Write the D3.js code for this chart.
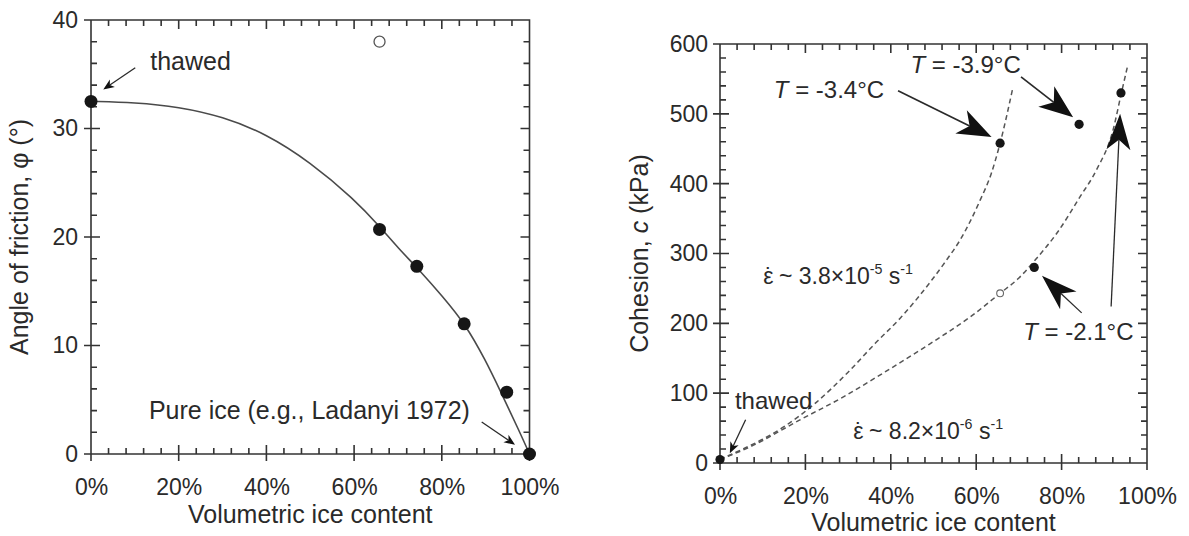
<!DOCTYPE html>
<html>
<head>
<meta charset="utf-8">
<script src="https://cdn.jsdelivr.net/npm/d3@7"></script>
<style>
  body { margin: 0; background: #fff; }
  text { font-family: "Liberation Sans", Arial, Helvetica, sans-serif; fill: #2a2a2a; }
</style>
</head>
<body>
<script>
// ---- data ----
const iceMajor = [0, 20, 40, 60, 80, 100];
const iceMinor = d3.range(0, 101, 4);
const angleMajor = [0, 10, 20, 30, 40];
const angleMinor = d3.range(0, 41, 2);
const cohesionMajor = [0, 100, 200, 300, 400, 500, 600];
const cohesionMinor = d3.range(0, 601, 20);

// left panel: friction angle vs ice content
const frictionIce = [0, 65.8, 74.3, 85.1, 94.8, 100];
const frictionAngle = [32.5, 20.7, 17.3, 12.0, 5.7, 0];
const frictionOpenIce = [65.8];
const frictionOpenAngle = [38.0];
const fitIce = [0, 10, 20, 30, 40, 50, 60, 66, 70, 75, 80, 85.5, 90, 93, 97.8, 100];
const fitAngle = [32.5, 32.4, 32.0, 31.1, 29.5, 26.9, 23.5, 20.9, 19.0, 16.9, 14.6, 11.9, 8.6, 6.1, 2.0, 0];

// right panel: cohesion vs ice content
const cohesionIce = [0, 65.6, 84.1, 93.9, 73.6];
const cohesionKPa = [5, 458, 485, 530, 280];
const cohesionOpenIce = [65.6];
const cohesionOpenKPa = [243];
const fastIce = [0, 5, 10, 15, 22, 30, 36.3, 42.6, 49.6, 53.1, 56.2, 60.9, 63.5, 65.6, 68.5];
const fastKPa = [5, 19, 34, 52, 84, 130, 171, 210, 262, 291, 319, 376, 414, 458, 535];
const slowIce = [0, 7, 18.5, 29, 38, 49, 59, 65.6, 70, 74, 79, 84.3, 88.2, 92.1, 93.9, 95.4];
const slowKPa = [5, 23, 61, 95, 128, 170, 211, 243, 265, 292, 330, 381, 420, 478, 527, 567];

const width = 1189, height = 536;
const svg = d3.select("body").append("svg").attr("width", width).attr("height", height);

const ink = "#2a2a2a";
const frameInk = "#333";

// text with optional italic / superscript / dotted-epsilon pieces
function addText(g, x, y, parts, size, anchor) {
  const t = g.append("text")
    .attr("x", x).attr("y", y)
    .attr("font-size", size)
    .attr("text-anchor", anchor || "start");
  let raised = false;
  parts.forEach(p => {
    if (p.dot) {
      t.append("tspan").text("\u03b5");
      t.append("tspan").text("\u02d9").attr("dx", -size * 0.37);
      return;
    }
    const s = t.append("tspan").text(p.t);
    if (p.i) s.attr("font-style", "italic");
    if (p.sup && !raised) { s.attr("dy", -size * 0.42).attr("font-size", size * 0.62); raised = true; }
    else if (p.sup) { s.attr("font-size", size * 0.62); }
    else if (raised) { s.attr("dy", size * 0.42); raised = false; }
  });
  return t;
}

function arrow(g, x1, y1, x2, y2, len, half, lw) {
  const dx = x2 - x1, dy = y2 - y1, d = Math.hypot(dx, dy);
  const ux = dx / d, uy = dy / d, nx = -uy, ny = ux;
  const notch = len * 0.28;
  g.append("line")
    .attr("x1", x1).attr("y1", y1)
    .attr("x2", x2 - ux * (len - notch)).attr("y2", y2 - uy * (len - notch))
    .attr("stroke", ink).attr("stroke-width", lw);
  const p = d3.path();
  p.moveTo(x2, y2);
  p.lineTo(x2 - ux * len + nx * half, y2 - uy * len + ny * half);
  p.lineTo(x2 - ux * (len - notch), y2 - uy * (len - notch));
  p.lineTo(x2 - ux * len - nx * half, y2 - uy * len - ny * half);
  p.closePath();
  g.append("path").attr("d", p.toString()).attr("fill", "#111");
}

// box with ticks on all four sides; major ticks cross the left and bottom lines
function drawTicks(g, x, y, yMajor, yMinor, w, h) {
  const minorLen = 6, majorIn = 9, majorOut = 7;
  const segs = [];
  iceMinor.forEach(v => { segs.push([x(v), h, x(v), h - minorLen]); segs.push([x(v), 0, x(v), minorLen]); });
  iceMajor.forEach(v => { segs.push([x(v), h + majorOut, x(v), h - majorIn]); segs.push([x(v), 0, x(v), majorIn]); });
  yMinor.forEach(v => { segs.push([0, y(v), minorLen, y(v)]); segs.push([w, y(v), w - minorLen, y(v)]); });
  yMajor.forEach(v => { segs.push([-majorOut, y(v), majorIn, y(v)]); segs.push([w, y(v), w - majorIn, y(v)]); });
  const p = d3.path();
  segs.forEach(s => { p.moveTo(s[0], s[1]); p.lineTo(s[2], s[3]); });
  p.rect(0, 0, w, h);
  g.append("path").attr("d", p.toString())
    .attr("fill", "none").attr("stroke", frameInk).attr("stroke-width", 1.6);
}

function drawLabels(g, x, y, yMajor, h, xPad, yPad) {
  const labelStyle = sel => {
    sel.select(".domain").remove();
    sel.selectAll(".tick line").remove();
    sel.selectAll("text").attr("font-size", 23).attr("fill", ink)
      .attr("font-family", '"Liberation Sans", Arial, sans-serif');
  };
  g.append("g").attr("transform", `translate(0,${h})`)
    .call(d3.axisBottom(x).tickValues(iceMajor).tickSize(7).tickPadding(xPad).tickFormat(d => d + "%"))
    .call(labelStyle);
  g.append("g")
    .call(d3.axisLeft(y).tickValues(yMajor).tickSize(7).tickPadding(yPad))
    .call(labelStyle);
}

// ---------------- left panel ----------------
const PL = { left: 91, top: 20, w: 438.5, h: 434 };
const gL = svg.append("g").attr("transform", `translate(${PL.left},${PL.top})`);
const xL = d3.scaleLinear().domain([0, 100]).range([0, PL.w]);
const yL = d3.scaleLinear().domain([0, 40]).range([PL.h, 0]);

gL.append("path")
  .datum(d3.zip(fitIce, fitAngle))
  .attr("fill", "none").attr("stroke", "#4a4a4a").attr("stroke-width", 1.6)
  .attr("d", d3.line().x(d => xL(d[0])).y(d => yL(d[1])).curve(d3.curveBasis));

drawTicks(gL, xL, yL, angleMajor, angleMinor, PL.w, PL.h);
drawLabels(gL, xL, yL, angleMajor, PL.h, 18, 6);

gL.selectAll("circle.solid").data(d3.zip(frictionIce, frictionAngle)).join("circle")
  .attr("class", "solid")
  .attr("cx", d => xL(d[0])).attr("cy", d => yL(d[1])).attr("r", 6.5).attr("fill", "#161616");
gL.selectAll("circle.open").data(d3.zip(frictionOpenIce, frictionOpenAngle)).join("circle")
  .attr("class", "open")
  .attr("cx", d => xL(d[0])).attr("cy", d => yL(d[1])).attr("r", 5.5)
  .attr("fill", "#fff").attr("stroke", "#555").attr("stroke-width", 1.3);

addText(gL, xL(13.5), yL(35.4), [{ t: "thawed" }], 25);
arrow(gL, xL(10.1), yL(35.6), xL(2.8), yL(33.6), 11, 4.5, 1.3);
addText(gL, xL(13.2), yL(3.2), [{ t: "Pure ice (e.g., Ladanyi 1972)" }], 25);
arrow(gL, xL(89.1), yL(2.95), xL(96.7), yL(0.85), 11, 4.5, 1.3);

gL.append("text")
  .attr("transform", `translate(-63,${PL.h / 2}) rotate(-90)`)
  .attr("text-anchor", "middle").attr("font-size", 25)
  .text("Angle of friction, \u03c6 (\u00b0)");
gL.append("text")
  .attr("x", PL.w / 2).attr("y", PL.h + 69)
  .attr("text-anchor", "middle").attr("font-size", 25)
  .text("Volumetric ice content");

// ---------------- right panel ----------------
const PR = { left: 720, top: 44, w: 427, h: 419 };
const gR = svg.append("g").attr("transform", `translate(${PR.left},${PR.top})`);
const xR = d3.scaleLinear().domain([0, 100]).range([0, PR.w]);
const yR = d3.scaleLinear().domain([0, 600]).range([PR.h, 0]);

const dashLine = d3.line().x(d => xR(d[0])).y(d => yR(d[1])).curve(d3.curveMonotoneX);
[[fastIce, fastKPa], [slowIce, slowKPa]].forEach(([xs, ys]) => {
  gR.append("path")
    .datum(d3.zip(xs, ys))
    .attr("fill", "none").attr("stroke", "#555").attr("stroke-width", 1.5)
    .attr("stroke-dasharray", "5,3.5")
    .attr("d", dashLine);
});

drawTicks(gR, xR, yR, cohesionMajor, cohesionMinor, PR.w, PR.h);
drawLabels(gR, xR, yR, cohesionMajor, PR.h, 18, 5);

gR.selectAll("circle.solid").data(d3.zip(cohesionIce, cohesionKPa)).join("circle")
  .attr("class", "solid")
  .attr("cx", d => xR(d[0])).attr("cy", d => yR(d[1])).attr("r", 4.6).attr("fill", "#161616");
gR.selectAll("circle.open").data(d3.zip(cohesionOpenIce, cohesionOpenKPa)).join("circle")
  .attr("class", "open")
  .attr("cx", d => xR(d[0])).attr("cy", d => yR(d[1])).attr("r", 3.4)
  .attr("fill", "#fff").attr("stroke", "#666").attr("stroke-width", 1.1);

addText(gR, xR(12.6), yR(522), [{ t: "T", i: true }, { t: " = -3.4\u00b0C" }], 24);
arrow(gR, xR(41.7), yR(533), xR(63.6), yR(467), 34, 13, 1.7);
addText(gR, xR(44.6), yR(558), [{ t: "T", i: true }, { t: " = -3.9\u00b0C" }], 24);
arrow(gR, xR(70.5), yR(553), xR(82.7), yR(495), 34, 13, 1.7);
addText(gR, xR(71), yR(176), [{ t: "T", i: true }, { t: " = -2.1\u00b0C" }], 24);
arrow(gR, xR(84.7), yR(215), xR(75.4), yR(268), 36, 12, 1.3);
arrow(gR, xR(91.6), yR(224), xR(93.7), yR(500), 36, 12, 1.3);

addText(gR, xR(3.5), yR(78), [{ t: "thawed" }], 24);
arrow(gR, xR(6), yR(62), xR(2.3), yR(14), 11, 4.5, 1.3);

addText(gR, xR(10.1), yR(257),
  [{ dot: true }, { t: " ~ 3.8\u00d710" }, { t: "-5", sup: true }, { t: " s" }, { t: "-1", sup: true }], 23);
addText(gR, xR(31.2), yR(35),
  [{ dot: true }, { t: " ~ 8.2\u00d710" }, { t: "-6", sup: true }, { t: " s" }, { t: "-1", sup: true }], 23);

gR.append("text")
  .attr("transform", `translate(-72,${PR.h / 2}) rotate(-90)`)
  .attr("text-anchor", "middle").attr("font-size", 25)
  .call(t => {
    t.append("tspan").text("Cohesion, ");
    t.append("tspan").attr("font-style", "italic").text("c");
    t.append("tspan").text(" (kPa)");
  });
gR.append("text")
  .attr("x", PR.w / 2).attr("y", PR.h + 68)
  .attr("text-anchor", "middle").attr("font-size", 25)
  .text("Volumetric ice content");
</script>
</body>
</html>
